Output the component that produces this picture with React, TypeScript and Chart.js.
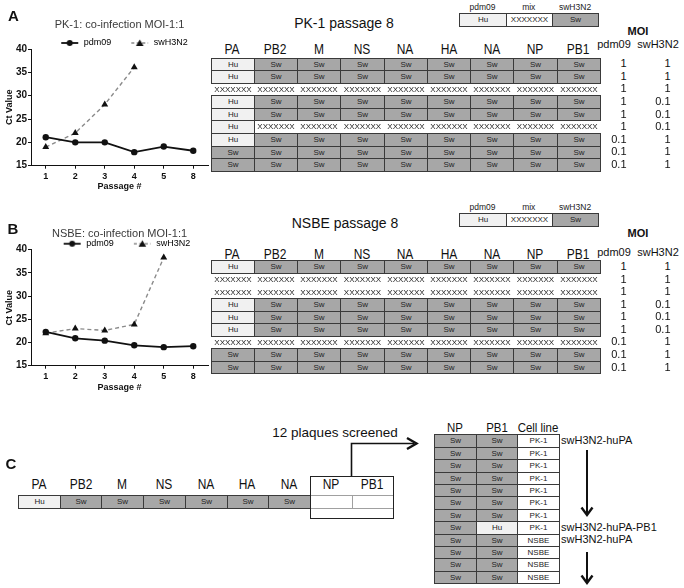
import React, { useEffect, useRef } from 'react';
import { Chart, registerables } from 'chart.js';

Chart.register(...registerables);

const FONT = '"Liberation Sans", Arial, Helvetica, sans-serif';

// ---------------- data ----------------
const passages = ['1', '2', '3', '4', '5', '8'];
const seriesNames = ['pdm09', 'swH3N2'];
const pk1Pdm09 = [21.1, 20.0, 20.0, 17.9, 19.1, 18.2];
const pk1SwH3N2 = [19.0, 22.0, 28.1, 36.1, null, null];
const nsbePdm09 = [22.3, 20.9, 20.4, 19.4, 19.0, 19.2];
const nsbeSwH3N2 = [22.0, 23.0, 22.6, 23.9, 38.3, null];
const yAxisMin = 15;
const yAxisMax = 40;
const yAxisStep = 5;

const segments = ['PA', 'PB2', 'M', 'NS', 'NA', 'HA', 'NA', 'NP', 'PB1'];
// H = Hu (pdm09), S = Sw (swH3N2), X = mix
const pk1Genotypes = ['HSSSSSSSS', 'HSSSSSSSS', 'XXXXXXXXX', 'HSSSSSSSS', 'HSSSSSSSS', 'HXXXXXXXX', 'HSSSSSSSS', 'SSSSSSSSS', 'SSSSSSSSS'];
const pk1MoiPdm09 = ['1', '1', '1', '1', '1', '1', '0.1', '0.1', '0.1'];
const pk1MoiSwH3N2 = ['1', '1', '1', '0.1', '0.1', '0.1', '1', '1', '1'];
const nsbeGenotypes = ['HSSSSSSSS', 'XXXXXXXXX', 'XXXXXXXXX', 'HSSSSSSSS', 'HSSSSSSSS', 'HSSSSSSSS', 'XXXXXXXXX', 'SSSSSSSSS', 'SSSSSSSSS'];
const nsbeMoiPdm09 = ['1', '1', '1', '1', '1', '1', '0.1', '0.1', '0.1'];
const nsbeMoiSwH3N2 = ['1', '1', '1', '0.1', '0.1', '0.1', '1', '1', '1'];
const keyCodes = ['H', 'X', 'S'];
const keyLabels = ['pdm09', 'mix', 'swH3N2'];
const parentGenotype = 'HSSSSSSEE';
const plaqueNP = ['S', 'S', 'S', 'S', 'S', 'S', 'S', 'S', 'S', 'S', 'S', 'S'];
const plaquePB1 = ['S', 'S', 'S', 'S', 'S', 'S', 'S', 'H', 'S', 'S', 'S', 'S'];
const plaqueCellLine = ['PK-1', 'PK-1', 'PK-1', 'PK-1', 'PK-1', 'PK-1', 'PK-1', 'PK-1', 'NSBE', 'NSBE', 'NSBE', 'NSBE'];
const plaqueNotes: [number, string][] = [[0, 'swH3N2-huPA'], [7, 'swH3N2-huPA-PB1'], [8, 'swH3N2-huPA']];

const SW_FILL = '#a7a7a7';
const HU_FILL = '#f1f1f1';
const BORDER = '#3a3a3a';

// ---------------- chart ----------------
function legendIcon(kind: 'solid' | 'dashed', boxW: number) {
  const c = document.createElement('canvas');
  c.width = Math.round(boxW);
  c.height = 12;
  const g = c.getContext('2d')!;
  const x1 = c.width - 1;
  const x0 = x1 - 17;
  const cy = 6;
  const cx = (x0 + x1) / 2;
  g.strokeStyle = kind === 'solid' ? '#111' : '#8a8a8a';
  g.lineWidth = kind === 'solid' ? 1.8 : 1.4;
  if (kind === 'dashed') g.setLineDash([3, 2.5]);
  g.beginPath();
  g.moveTo(x0, cy);
  g.lineTo(x1, cy);
  g.stroke();
  g.setLineDash([]);
  g.fillStyle = '#111';
  g.beginPath();
  if (kind === 'solid') {
    g.arc(cx, cy, 3, 0, Math.PI * 2);
  } else {
    g.moveTo(cx, cy - 3.6);
    g.lineTo(cx + 3.8, cy + 3);
    g.lineTo(cx - 3.8, cy + 3);
    g.closePath();
  }
  g.fill();
  return c;
}

type Geo = {
  top: number;
  titlePadTop: number;
  titlePadBottom: number;
  legendPad: number;
  legendBoxW: number;
  areaTop: number;
  areaBottom: number;
};

const CW = 212;
const CH = 194;

function LineChart({ title, pdm, sw, geo }: { title: string; pdm: (number | null)[]; sw: (number | null)[]; geo: Geo }) {
  const ref = useRef<HTMLCanvasElement>(null);
  useEffect(() => {
    const icons = [legendIcon('solid', geo.legendBoxW), legendIcon('dashed', geo.legendBoxW)];
    const legendTop = geo.titlePadTop + geo.titlePadBottom;
    const tickFont = { family: FONT, size: 10, weight: 'bold' as const };
    const chart = new Chart(ref.current!, {
      type: 'line',
      data: {
        labels: passages,
        datasets: [
          {
            label: seriesNames[0],
            data: pdm,
            borderColor: '#111',
            backgroundColor: '#111',
            borderWidth: 1.8,
            pointStyle: 'circle',
            pointRadius: 3.2,
            pointBackgroundColor: '#111',
            pointBorderColor: '#111',
            pointBorderWidth: 0,
            tension: 0,
            clip: false as any,
          },
          {
            label: seriesNames[1],
            data: sw,
            borderColor: '#8a8a8a',
            backgroundColor: '#111',
            borderWidth: 1.4,
            borderDash: [4, 3],
            pointStyle: 'triangle',
            pointRadius: 4,
            pointBackgroundColor: '#111',
            pointBorderColor: '#111',
            pointBorderWidth: 0,
            tension: 0,
            clip: false as any,
          },
        ],
      },
      options: {
        responsive: false,
        animation: false,
        devicePixelRatio: 1,
        layout: { padding: { left: 0, right: CW - 208, top: 0, bottom: 0 } },
        plugins: {
          tooltip: { enabled: false },
          title: {
            display: true,
            text: title,
            fullSize: false,
            color: '#3a3a3a',
            font: { family: FONT, size: 11, weight: 'normal', lineHeight: 0 },
            padding: { top: geo.titlePadTop, bottom: geo.titlePadBottom },
          },
          legend: {
            display: true,
            position: 'top',
            fullSize: false,
            align: 'center',
            maxHeight: geo.areaTop - legendTop,
            labels: {
              usePointStyle: true,
              pointStyleWidth: geo.legendBoxW,
              padding: geo.legendPad,
              color: '#333',
              font: { family: FONT, size: 9 },
              generateLabels: () =>
                seriesNames.map((n, i) => ({
                  text: n,
                  pointStyle: icons[i] as any,
                  fillStyle: 'transparent',
                  strokeStyle: 'transparent',
                  lineWidth: 0,
                  hidden: false,
                  datasetIndex: i,
                })),
            },
          },
        },
        scales: {
          x: {
            type: 'category',
            offset: true,
            grid: { display: true, drawOnChartArea: false, drawTicks: true, tickLength: 3, color: '#111', offset: false },
            border: { display: true, color: '#111', width: 1 },
            ticks: { font: { family: FONT, size: 9, weight: 'bold' }, color: '#111', padding: 2, maxRotation: 0 },
            title: {
              display: true,
              text: 'Passage #',
              color: '#111',
              font: { family: FONT, size: 9, weight: 'bold' },
              padding: { top: 0, bottom: 2 },
            },
            afterFit: (s: any) => {
              s.height = CH - geo.areaBottom;
            },
          },
          y: {
            min: yAxisMin,
            max: yAxisMax,
            grid: { display: true, drawOnChartArea: false, drawTicks: true, tickLength: 3, color: '#111' },
            border: { display: true, color: '#111', width: 1 },
            ticks: { stepSize: yAxisStep, font: tickFont, color: '#111', padding: 1 },
            title: {
              display: true,
              text: 'Ct Value',
              color: '#111',
              font: { family: FONT, size: 9, weight: 'bold' },
              padding: { top: 4, bottom: 0 },
            },
            afterFit: (s: any) => {
              s.width = 31;
            },
          },
        },
      },
    } as any);
    return () => chart.destroy();
  }, []);
  return (
    <canvas
      ref={ref}
      width={CW}
      height={CH}
      style={{ position: 'absolute', left: 0, top: geo.top, width: CW, height: CH }}
    />
  );
}

// ---------------- html helpers ----------------
function Txt({
  x,
  y,
  children,
  size = 11,
  weight = 400,
  anchor = 'middle',
  sx = 1,
  color = '#111',
}: {
  x: number;
  y: number;
  children: React.ReactNode;
  size?: number;
  weight?: number;
  anchor?: 'start' | 'middle' | 'end';
  sx?: number;
  color?: string;
}) {
  const tx = anchor === 'middle' ? '-50%' : anchor === 'end' ? '-100%' : '0';
  const origin = anchor === 'middle' ? '50% 50%' : anchor === 'end' ? '100% 50%' : '0 50%';
  return (
    <div
      style={{
        position: 'absolute',
        left: x,
        top: y - size / 2,
        fontFamily: FONT,
        fontSize: size,
        fontWeight: weight,
        lineHeight: `${size}px`,
        whiteSpace: 'nowrap',
        color,
        transform: `translateX(${tx}) scaleX(${sx})`,
        transformOrigin: origin,
      }}
    >
      {children}
    </div>
  );
}

function rectOf(x0: number, y0: number, w: number, h: number, c: number, r: number) {
  const l = Math.round(x0 + c * w);
  const t = Math.round(y0 + r * h);
  const rr = Math.round(x0 + (c + 1) * w);
  const b = Math.round(y0 + (r + 1) * h);
  return { left: l, top: t, width: rr - l + 1, height: b - t + 1 };
}

const codeLabel: Record<string, string> = { H: 'Hu', S: 'Sw', X: 'XXXXXXX', E: '' };

function Cell({ rect, code, text, bordered }: { rect: any; code: string; text?: string; bordered?: boolean }) {
  const bg = code === 'S' ? SW_FILL : code === 'H' ? HU_FILL : code === 'W' ? '#fff' : 'transparent';
  let border = `1px solid ${BORDER}`;
  if (code === 'X' && !bordered) border = 'none';
  if (code === 'E') border = '1px solid #a0a0a0';
  return (
    <div
      style={{
        position: 'absolute',
        ...rect,
        boxSizing: 'border-box',
        border,
        background: bg,
        display: 'flex',
        alignItems: 'center',
        justifyContent: 'center',
        fontFamily: FONT,
        fontSize: 8,
        color: '#222',
        lineHeight: 1,
        whiteSpace: 'nowrap',
      }}
    >
      {text !== undefined ? text : codeLabel[code]}
    </div>
  );
}

type TableGeo = {
  x0: number;
  w: number;
  y0: number;
  h: number;
  headerY: number;
  titleX: number;
  titleY: number;
  keyY: number;
  keyLabelY: number;
  moiY: number;
  subY: number;
};

function PassageTable({ title, rows, moiA, moiB, g }: { title: string; rows: string[]; moiA: string[]; moiB: string[]; g: TableGeo }) {
  const items: React.ReactNode[] = [];
  segments.forEach((s, c) => {
    items.push(
      <Txt key={'h' + c} x={g.x0 + (c + 0.5) * g.w} y={g.headerY} size={15} sx={0.8}>
        {s}
      </Txt>
    );
  });
  rows.forEach((row, r) => {
    row.split('').forEach((code, c) => {
      items.push(<Cell key={`c${r}_${c}`} rect={rectOf(g.x0, g.y0, g.w, g.h, c, r)} code={code} />);
    });
    const cy = g.y0 + (r + 0.5) * g.h;
    items.push(
      <Txt key={'ma' + r} x={626.5} y={cy} size={11} anchor="end">
        {moiA[r]}
      </Txt>
    );
    items.push(
      <Txt key={'mb' + r} x={670.5} y={cy} size={11} anchor="end">
        {moiB[r]}
      </Txt>
    );
  });
  // key
  const kx = 459.3;
  const kw = 46.3;
  keyCodes.forEach((code, i) => {
    items.push(<Cell key={'k' + i} rect={rectOf(kx, g.keyY, kw, 12.7, i, 0)} code={code} bordered />);
    items.push(
      <Txt key={'kl' + i} x={kx + (i + 0.5) * kw} y={g.keyLabelY} size={8.5} color="#222">
        {keyLabels[i]}
      </Txt>
    );
  });
  items.push(
    <Txt key="title" x={g.titleX} y={g.titleY} size={14}>
      {title}
    </Txt>
  );
  items.push(
    <Txt key="moi" x={638} y={g.moiY} size={11} weight={700}>
      MOI
    </Txt>
  );
  items.push(
    <Txt key="s1" x={614} y={g.subY} size={11}>
      pdm09
    </Txt>
  );
  items.push(
    <Txt key="s2" x={658} y={g.subY} size={11}>
      swH3N2
    </Txt>
  );
  return <>{items}</>;
}

function PanelC() {
  const items: React.ReactNode[] = [];
  const x0 = 18;
  const w = 41.7;
  segments.forEach((s, c) => {
    items.push(
      <Txt key={'h' + c} x={x0 + (c + 0.5) * w} y={483} size={15} sx={0.8}>
        {s}
      </Txt>
    );
    items.push(<Cell key={'p' + c} rect={rectOf(x0, 495, w, 13, c, 0)} code={parentGenotype[c]} />);
  });
  // box around NP / PB1
  items.push(
    <div
      key="box"
      style={{ position: 'absolute', left: 310, top: 476, width: 84, height: 43, boxSizing: 'border-box', border: '1px solid #222' }}
    />
  );
  items.push(
    <Txt key="plq" x={335} y={433} size={13.5}>
      12 plaques screened
    </Txt>
  );
  // right table
  const rx = 434;
  const rw = 41.67;
  const ry = 434.3;
  const rh = 12.4;
  ['NP', 'PB1', 'Cell line'].forEach((s, c) => {
    items.push(
      <Txt key={'rh' + c} x={rx + (c + 0.5) * rw} y={427} size={13} sx={0.88}>
        {s}
      </Txt>
    );
  });
  plaqueNP.forEach((code, r) => {
    items.push(<Cell key={'np' + r} rect={rectOf(rx, ry, rw, rh, 0, r)} code={code} />);
    items.push(<Cell key={'pb' + r} rect={rectOf(rx, ry, rw, rh, 1, r)} code={plaquePB1[r]} />);
    items.push(<Cell key={'cl' + r} rect={rectOf(rx, ry, rw, rh, 2, r)} code="W" text={plaqueCellLine[r]} />);
  });
  plaqueNotes.forEach(([r, t]) => {
    items.push(
      <Txt key={'n' + r} x={561} y={ry + (r + 0.5) * rh} size={11} anchor="start">
        {t}
      </Txt>
    );
  });
  items.push(
    <svg key="arrows" width={684} height={588} style={{ position: 'absolute', left: 0, top: 0, pointerEvents: 'none' }}>
      <polyline points="351.5,476 351.5,443.5 414,443.5" fill="none" stroke="#111" strokeWidth={1.6} />
      <path d="M 407 438 L 416.5 443.5 L 407 449" fill="none" stroke="#111" strokeWidth={2.4} />
      <line x1={587} y1={450} x2={587} y2={514} stroke="#111" strokeWidth={2} />
      <path d="M 581.5 507.5 L 587 515 L 592.5 507.5" fill="none" stroke="#111" strokeWidth={2.4} />
      <line x1={587} y1={552} x2={587} y2={582} stroke="#111" strokeWidth={2} />
      <path d="M 581.5 575.5 L 587 583 L 592.5 575.5" fill="none" stroke="#111" strokeWidth={2.4} />
    </svg>
  );
  return <>{items}</>;
}

export default function App() {
  const geoA: Geo = { top: 0, titlePadTop: 25, titlePadBottom: 3.5, legendPad: 10, legendBoxW: 28, areaTop: 49, areaBottom: 165.7 };
  const geoB: Geo = { top: 201, titlePadTop: 33, titlePadBottom: 0, legendPad: 5.2, legendBoxW: 33, areaTop: 48.7, areaBottom: 164.7 };
  const tA: TableGeo = { x0: 210.5, w: 43.28, y0: 57.5, h: 12.58, headerY: 48, titleX: 344, titleY: 22.5, keyY: 13.3, keyLabelY: 7.5, moiY: 31.5, subY: 44 };
  const tB: TableGeo = { x0: 210.5, w: 43.28, y0: 260.4, h: 12.55, headerY: 253, titleX: 345, titleY: 223, keyY: 213.3, keyLabelY: 207.3, moiY: 233, subY: 252 };
  return (
    <div style={{ position: 'absolute', left: 0, top: 0, width: 684, height: 588, background: '#fff', overflow: 'hidden' }}>
      <LineChart title="PK-1: co-infection MOI-1:1" pdm={pk1Pdm09} sw={pk1SwH3N2} geo={geoA} />
      <LineChart title="NSBE: co-infection MOI-1:1" pdm={nsbePdm09} sw={nsbeSwH3N2} geo={geoB} />
      <Txt x={13.5} y={15} size={15} weight={700}>A</Txt>
      <Txt x={13} y={228} size={15} weight={700}>B</Txt>
      <Txt x={11} y={463} size={15} weight={700}>C</Txt>
      <PassageTable title="PK-1 passage 8" rows={pk1Genotypes} moiA={pk1MoiPdm09} moiB={pk1MoiSwH3N2} g={tA} />
      <PassageTable title="NSBE passage 8" rows={nsbeGenotypes} moiA={nsbeMoiPdm09} moiB={nsbeMoiSwH3N2} g={tB} />
      <PanelC />
    </div>
  );
}
